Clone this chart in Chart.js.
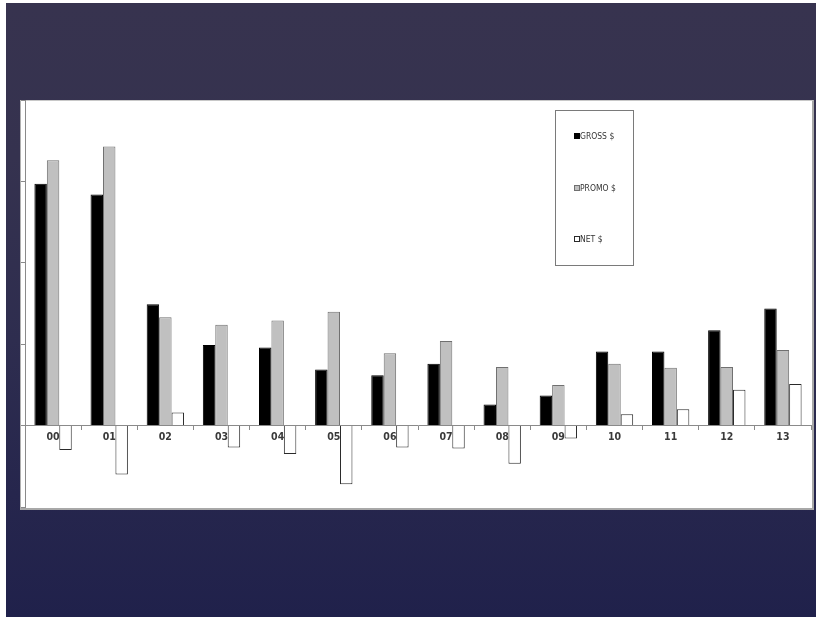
<!DOCTYPE html>
<html>
<head>
<meta charset="utf-8">
<script src="https://cdn.jsdelivr.net/npm/chart.js@4/dist/chart.umd.min.js"></script>
<style>
  html, body { margin: 0; padding: 0; background: #ffffff; }
  body { width: 816px; height: 617px; position: relative; overflow: hidden; }
  #slide {
    position: absolute; left: 6px; top: 3px; width: 810px; height: 614px;
    background: linear-gradient(180deg, #37334f 0%, #35324f 25%, #2e2d4f 55%, #26264d 80%, #20214b 100%);
  }
  #panel {
    position: absolute; left: 20px; top: 100px; width: 791px; height: 407px;
    background: #ffffff;
    border-top: 1px solid #c8c8c8; border-left: 1px solid #b0b0b0;
    border-right: 2px solid #a8a8a8; border-bottom: 2px solid #a8a8a8;
  }
  #wrap { position: absolute; left: 0; top: 0; width: 816px; height: 617px; }
</style>
</head>
<body>
<div id="slide"></div>
<div id="panel"></div>
<div id="wrap"><canvas id="chart" width="816" height="617"></canvas></div>
<script>
// Years shown along the category axis
const years = ['00', '01', '02', '03', '04', '05', '06', '07', '08', '09', '10', '11', '12', '13'];
// Series values
const grossValues = [2.97, 2.84, 1.49, 0.99, 0.96, 0.69, 0.62, 0.76, 0.26, 0.37, 0.91, 0.91, 1.17, 1.44];
const promoValues = [3.26, 3.43, 1.33, 1.24, 1.29, 1.40, 0.89, 1.04, 0.72, 0.50, 0.76, 0.71, 0.72, 0.93];
const netValues   = [-0.30, -0.60, 0.16, -0.27, -0.35, -0.72, -0.27, -0.28, -0.47, -0.16, 0.14, 0.20, 0.44, 0.51];
const seriesNames = ['GROSS $', 'PROMO $', 'NET $'];
// Value axis range
const yMin = -1, yMax = 4, yStep = 1;

const narrow = "'Liberation Sans Narrow', 'Arial Narrow', 'DejaVu Sans Condensed', 'Liberation Sans', Arial, sans-serif";

// Boxed vertical legend inside the plot, built from the dataset labels/colours
const boxLegend = {
  id: 'boxLegend',
  afterDraw(chart) {
    const ctx = chart.ctx;
    const x0 = 555.5, y0 = 110.5, w = 78, h = 155;
    ctx.save();
    ctx.strokeStyle = '#7a7a7a';
    ctx.lineWidth = 1;
    ctx.strokeRect(x0, y0, w, h);
    ctx.font = '8.5px ' + narrow;
    ctx.textBaseline = 'middle';
    ctx.textAlign = 'left';
    const rows = [136, 188, 239];
    chart.data.datasets.forEach((ds, i) => {
      const cy = rows[i];
      ctx.fillStyle = ds.backgroundColor;
      ctx.fillRect(574.5, cy - 2.5, 5, 5);
      ctx.strokeStyle = ds.borderColor;
      ctx.strokeRect(574.5, cy - 2.5, 5, 5);
      ctx.fillStyle = '#333333';
      ctx.fillText(ds.label, 580, cy + 0.5);
    });
    ctx.restore();
  }
};

new Chart(document.getElementById('chart'), {
  type: 'bar',
  data: {
    labels: years,
    datasets: [
      { label: seriesNames[0], data: grossValues, backgroundColor: '#000000', borderColor: '#000000', borderWidth: 1 },
      { label: seriesNames[1], data: promoValues, backgroundColor: '#c0c0c0', borderColor: '#707070', borderWidth: 1 },
      { label: seriesNames[2], data: netValues, backgroundColor: '#ffffff', borderColor: '#2a2a2a', borderWidth: 1 }
    ]
  },
  options: {
    responsive: false,
    animation: false,
    devicePixelRatio: 1,
    layout: { padding: { left: 21, right: 5, top: 100, bottom: 110 } },
    datasets: { bar: { barPercentage: 1.0, categoryPercentage: 0.665 } },
    plugins: { legend: { display: false }, tooltip: { enabled: false } },
    scales: {
      x: {
        position: { y: 0 },
        grid: { display: true, drawOnChartArea: false, drawTicks: true, tickLength: 4, color: '#8a8a8a', offset: true },
        border: { display: true, color: '#8a8a8a', width: 1 },
        ticks: { color: '#3a3a3a', font: { family: narrow, size: 10.5, weight: 'bold' }, padding: 1, maxRotation: 0, autoSkip: false }
      },
      y: {
        min: yMin, max: yMax,
        grid: { display: true, drawOnChartArea: false, drawTicks: true, tickLength: 4, color: '#8a8a8a' },
        border: { display: true, color: '#8a8a8a', width: 1 },
        ticks: { display: false, stepSize: yStep }
      }
    }
  },
  plugins: [boxLegend]
});
</script>
</body>
</html>
